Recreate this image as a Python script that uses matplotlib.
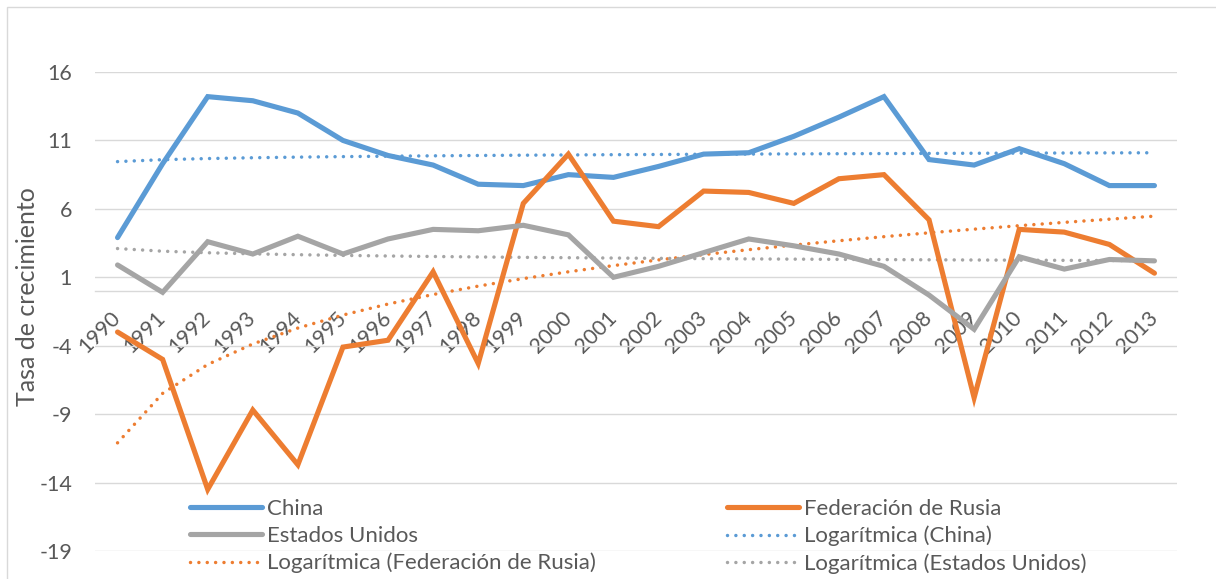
import numpy as np
import matplotlib
matplotlib.use("Agg")
import matplotlib.pyplot as plt
from matplotlib.patches import Rectangle

years = [str(y) for y in range(1990, 2014)]
china = [3.9, 9.3, 14.2, 13.9, 13.0, 11.0, 9.9, 9.2, 7.8, 7.7, 8.5, 8.3,
         9.1, 10.0, 10.1, 11.3, 12.7, 14.2, 9.6, 9.2, 10.4, 9.3, 7.7, 7.7]
rusia = [-3.0, -5.0, -14.5, -8.7, -12.7, -4.1, -3.6, 1.4, -5.3, 6.4, 10.0, 5.1,
         4.7, 7.3, 7.2, 6.4, 8.2, 8.5, 5.2, -7.8, 4.5, 4.3, 3.4, 1.3]
eeuu = [1.9, -0.1, 3.6, 2.7, 4.0, 2.7, 3.8, 4.5, 4.4, 4.8, 4.1, 1.0,
        1.8, 2.8, 3.8, 3.3, 2.7, 1.8, -0.3, -2.8, 2.5, 1.6, 2.3, 2.2]
yticks = [-19, -14, -9, -4, 1, 6, 11, 16]

names = ["China", "Federación de Rusia", "Estados Unidos"]
colors = ["#5B9BD5", "#ED7D31", "#A5A5A5"]
series = [china, rusia, eeuu]

plt.rcParams['font.family'] = ['Lato', 'DejaVu Sans']
W, H = 1216, 579
fig = plt.figure(figsize=(W / 100, H / 100), dpi=100)
fig.patches.append(Rectangle((7 / W, -0.1), 1.2, (H - 7) / H + 0.1,
                             transform=fig.transFigure, fill=False,
                             edgecolor="#D9D9D9", linewidth=1.0))

left, right, top, bottom = 95, 1177, 72, 551
ax = fig.add_axes([left / W, 1 - bottom / H, (right - left) / W, (bottom - top) / H])

for s in ['top', 'right', 'left']:
    ax.spines[s].set_visible(False)
ax.spines['bottom'].set_position(('data', 0))
ax.spines['bottom'].set_color('#D9D9D9')
ax.spines['bottom'].set_linewidth(1.0)
ax.spines['bottom'].set_zorder(1)

x = np.arange(len(years))
lx = np.log(x + 1)
handles = {}
for name, col, vals in zip(names, colors, series):
    h, = ax.plot(x, vals, color=col, linewidth=3.7, solid_capstyle='round',
                 solid_joinstyle='miter', zorder=3)
    handles[name] = h
for name, col, vals in zip(names, colors, series):
    a, b = np.polyfit(lx, np.array(vals), 1)
    tr = a * lx + b
    h, = ax.plot(x, tr, color=col, linewidth=2.5, linestyle=(0, (0.01, 2.4)),
                 dash_capstyle='round', zorder=2)
    handles["Logarítmica (" + name + ")"] = h

ax.set_xlim(-0.5, len(years) - 0.5)
ax.set_ylim(-19, 16)
ax.set_yticks(yticks)
ax.set_yticklabels([str(v) for v in yticks])
ax.set_xticks(x)
ax.set_xticklabels(years)
ax.grid(axis='y', color='#D9D9D9', linewidth=1.0, zorder=0)
ax.set_axisbelow(True)
ax.tick_params(axis='x', length=0, pad=17, labelsize=15.5, labelcolor='#595959', labelrotation=45)
ax.tick_params(axis='y', length=0, pad=16.5, labelsize=15.5, labelcolor='#595959')
for t in ax.get_xticklabels():
    t.set_ha('right')
    t.set_va('center')
    t.set_rotation_mode('anchor')
ax.set_ylabel("Tasa de crecimiento", fontsize=18, color='#595959', va='center')
ax.yaxis.set_label_coords((28 - left) / (right - left), (bottom - 297) / (bottom - top))

order = ["China", "Estados Unidos", "Logarítmica (Federación de Rusia)",
         "Federación de Rusia", "Logarítmica (China)", "Logarítmica (Estados Unidos)"]
leg = ax.legend([handles[k] for k in order], order, ncol=2, frameon=False,
                loc='upper left', bbox_to_anchor=((190 - left) / (right - left), (bottom - 499) / (bottom - top)),
                fontsize=16, labelcolor='#595959', handlelength=3.24, handletextpad=0.22,
                columnspacing=5.9, labelspacing=0.31, borderaxespad=0, borderpad=0)

fig.savefig("out.png", dpi=100)
